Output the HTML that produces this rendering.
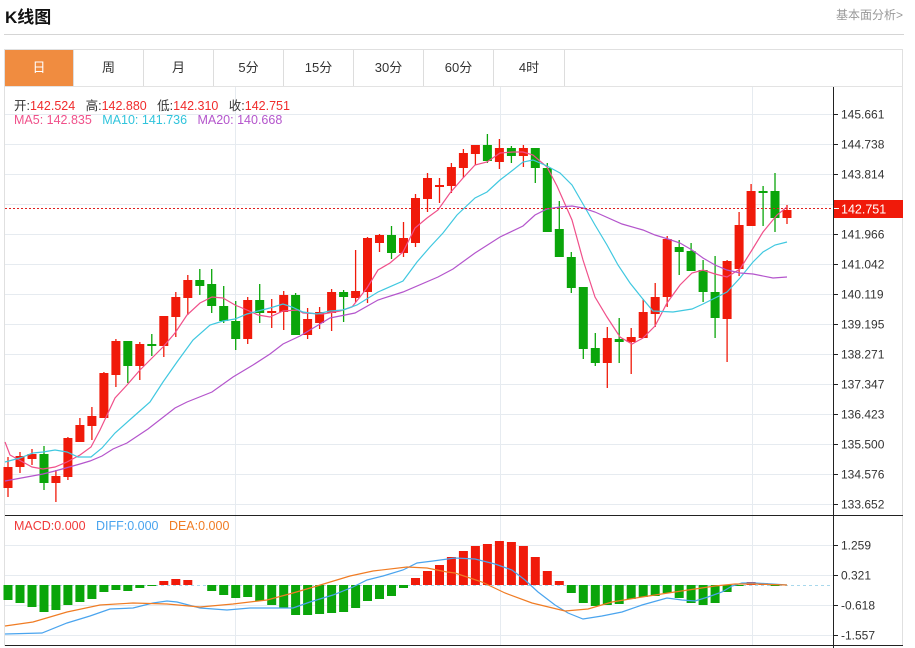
<!DOCTYPE html>
<html><head><meta charset="utf-8">
<style>
body{margin:0;background:#fff;width:915px;height:648px;overflow:hidden;font-family:"Liberation Sans","Noto Sans CJK SC",sans-serif;position:relative}
.t{position:absolute;white-space:nowrap}
.tab{position:absolute;top:50px;height:36px;line-height:36px;text-align:center;font-size:13px;color:#333;border-right:1px solid #ddd;box-sizing:border-box}
</style></head><body>
<div class="t" style="left:5px;top:3px;font-size:17px;font-weight:bold;color:#111">K线图</div>
<div class="t" style="left:836px;top:6px;font-size:12px;color:#999">基本面分析&gt;</div>
<div style="position:absolute;left:4px;top:34px;width:900px;height:1px;background:#d5d5d5"></div>
<div style="position:absolute;left:4px;top:49px;width:899px;height:597px;border:1px solid #e0e0e0;box-sizing:border-box"></div>
<div class="tab" style="left:5px;width:69px;background:#f08c40;color:#fff">日</div>
<div class="tab" style="left:74px;width:70px">周</div>
<div class="tab" style="left:144px;width:70px">月</div>
<div class="tab" style="left:214px;width:70px">5分</div>
<div class="tab" style="left:284px;width:70px">15分</div>
<div class="tab" style="left:354px;width:70px">30分</div>
<div class="tab" style="left:424px;width:70px">60分</div>
<div class="tab" style="left:494px;width:71px">4时</div>
<div style="position:absolute;left:5px;top:86px;width:898px;height:1px;background:#e3e3e3"></div>
<svg id="s" width="915" height="648" style="position:absolute;left:0;top:0"></svg>
<div class="t" style="left:14px;top:95px;font-size:12.5px;color:#333">开:<span style="color:#f02c2c">142.524</span>&nbsp;&nbsp;&nbsp;高:<span style="color:#f02c2c">142.880</span>&nbsp;&nbsp;&nbsp;低:<span style="color:#f02c2c">142.310</span>&nbsp;&nbsp;&nbsp;收:<span style="color:#f02c2c">142.751</span></div>
<div class="t" style="left:14px;top:113px;font-size:12.5px"><span style="color:#f0508a">MA5: 142.835</span>&nbsp;&nbsp;&nbsp;<span style="color:#30c4dc">MA10: 141.736</span>&nbsp;&nbsp;&nbsp;<span style="color:#b455cc">MA20: 140.668</span></div>
<div class="t" style="left:14px;top:519px;font-size:12.5px"><span style="color:#f03a3a">MACD:0.000</span>&nbsp;&nbsp;&nbsp;<span style="color:#4aa4ee">DIFF:0.000</span>&nbsp;&nbsp;&nbsp;<span style="color:#f07c24">DEA:0.000</span></div>
<script>
var s=document.getElementById('s'),h='';
function L(x1,y1,x2,y2,c,w,d){h+='<line x1="'+x1+'" y1="'+y1+'" x2="'+x2+'" y2="'+y2+'" stroke="'+c+'" stroke-width="'+(w||1)+'"'+(d?' stroke-dasharray="'+d+'"':'')+'/>';}
// grid
for(var i=0;i<14;i++){var y=114+30*i; if(y<515)L(5,y+.5,833,y+.5,'#e6ebf0');}
[545,575,605,635].forEach(function(y){L(5,y+.5,833,y+.5,'#e6ebf0');});
[235,500,752].forEach(function(x){L(x+.5,87,x+.5,645,'#e6ebf0');});
L(5,515.5,903,515.5,'#222');L(5,645.5,903,645.5,'#222');L(833.5,87,833.5,648,'#222');
// price axis
var labs=['145.661','144.738','143.814','','141.966','141.042','140.119','139.195','138.271','137.347','136.423','135.500','134.576','133.652'];
labs.forEach(function(t,i){var y=114+30*i;L(833,y+.5,838,y+.5,'#222');if(t)h+='<text x="841" y="'+(y+4.5)+'" font-size="12" fill="#333" font-family="Liberation Sans">'+t+'</text>';});
[['1.259',545],['0.321',575],['-0.618',605],['-1.557',635]].forEach(function(a){L(833,a[1]+.5,838,a[1]+.5,'#222');h+='<text x="841" y="'+(a[1]+4.5)+'" font-size="12" fill="#333" font-family="Liberation Sans">'+a[0]+'</text>';});
// candles [bt,bb,wt,wb,red?]
var C=[[467,488,457,497,1],[456,467,452,473,1],[454,459,449,465,1],[454,483,446,490,0],[476,483,470,502,1],[438,477,437,480,1],[425,442,418,442,1],[416,426,407,440,1],[373,418,372,418,1],[341,375,339,387,1],[341,366,341,383,0],[344,366,342,380,1],[344,346,334,356,0],[316,346,316,357,1],[297,317,292,337,1],[280,298,275,315,1],[280,286,269,295,0],[284,306,269,313,0],[306,321,286,323,0],[321,339,301,350,0],[300,339,297,344,1],[300,313,284,323,0],[311,313,299,328,1],[295,312,291,330,1],[295,335,293,335,0],
[319,335,308,339,1],[312,323,307,329,1],[292,313,289,331,1],[292,297,290,322,0],[291,298,250,302,1],[238,292,237,303,1],[235,243,234,252,1],[235,253,226,259,0],[238,253,222,257,1],[198,243,194,247,1],[178,199,173,212,1],[185,187,178,203,1],[167,186,163,193,1],[153,168,149,178,1],[145,154,145,165,1],[145,161,134,163,0],[148,162,139,169,1],[148,156,146,163,0],[148,156,145,167,1],[148,168,148,183,0],[168,232,163,232,0],[229,257,201,257,0],[257,288,252,293,0],[287,349,287,359,0],
[348,363,333,366,0],[338,363,327,388,1],[339,342,318,363,0],[337,342,328,374,1],[312,338,299,338,1],[297,314,283,327,1],[239,297,236,307,1],[247,252,240,275,0],[251,271,243,271,0],[270,292,260,302,0],[292,318,256,338,0],[261,319,260,362,1],[225,269,212,276,1],[191,226,184,226,1],[191,192,186,226,0],[191,218,173,232,0],[210,218,205,224,1]];
function X(i){return 8+i*11.985;}
C.forEach(function(c,i){var x=X(i),col=c[4]?'#f01a0a':'#0aa50a';L(x.toFixed(1),c[2],x.toFixed(1),c[3],col,1.3);var bh=Math.max(c[1]-c[0],2);h+='<rect x="'+(x-4.5).toFixed(1)+'" y="'+c[0]+'" width="9" height="'+bh+'" fill="'+col+'"/>';});
function P(pts,c,w){h+='<polyline fill="none" stroke="'+c+'" stroke-width="'+(w||1.2)+'" points="'+pts+'"/>';}
P('5,442 10,455 32,467 43,469 55,467 67,462 80,455 91,447 100,430 115,398 127,385 140,370 152,358 163,347 175,333 187,315 200,303 212,297 223,298 235,305 247,310 258,315 270,317 283,311 298,310 303,313 323,314 340,311 352,307 367,288 378,270 390,263 403,252 415,228 427,218 438,210 450,193 463,178 475,165 487,162 500,153 513,152 523,152 533,155 547,167 557,186 572,220 583,260 595,297 607,317 620,337 632,344 643,338 655,326 667,303 680,285 692,273 703,270 715,274 727,277 740,269 752,250 763,232 777,215 787,207','#f0508a');
P('5,462 20,458 33,453 43,452 55,450 67,452 78,457 91,457 102,448 115,433 133,417 150,402 163,382 177,362 193,340 210,325 223,321 235,319 247,314 258,311 270,308 283,304 292,307 303,312 317,314 330,311 343,310 357,305 378,292 403,281 417,262 430,247 443,233 457,215 475,198 487,192 500,180 513,170 523,162 533,160 547,166 560,173 572,185 583,204 595,225 607,245 618,265 630,283 642,298 653,311 673,312 692,309 703,304 715,298 727,292 740,278 753,262 763,252 775,245 787,242','#40c8e0');
P('5,481 43,474 55,471 80,464 90,461 102,456 113,449 127,443 148,429 175,408 187,402 212,392 233,377 253,365 270,354 283,344 300,336 330,318 355,313 378,300 403,292 438,277 453,269 475,253 500,237 523,226 535,215 547,209 560,207 572,206 583,208 595,212 622,224 643,230 655,235 668,239 680,243 692,250 703,258 715,265 727,270 740,273 753,274 773,278 787,277','#b455cc');
// price line
L(5,208.5,833,208.5,'#e02020',1,'2,2');
h+='<rect x="834" y="200" width="69" height="18" fill="#f01a0a"/>';L(834,208.5,839,208.5,'#fff');
h+='<text x="841" y="213.5" font-size="12.5" fill="#fff" font-family="Liberation Sans">142.751</text>';
// macd
L(5,585.5,833,585.5,'#a8d8ec',1,'3,3');
var M=[600,603,607,612,610,605,602,599,592,590,591,588,586,581,579,580,585,591,595,598,597,601,605,608,615,615,614,613,612,608,601,599,596,588,578,571,565,557,551,546,544,541,542,546,557,571,581,593,603,606,605,604,599,597,596,593,598,603,605,603,592,586,582,583,586,585];
M.forEach(function(v,i){var x=X(i);if(Math.abs(v-585)<1)return;var t=Math.min(v,585),hh=Math.abs(v-585);h+='<rect x="'+(x-4.5).toFixed(1)+'" y="'+t+'" width="9" height="'+hh+'" fill="'+(v<585?'#f01a0a':'#0aa50a')+'"/>';});
P('5,634 42,633 67,623 90,616 110,609 133,608 153,603 167,601 177,602 200,608 227,610 250,608 273,608 293,608 310,602 333,595 353,587 367,580 383,576 403,570 417,563 433,561 455,558 475,559 495,564 512,570 525,580 538,592 555,605 568,613 583,619 602,616 622,612 642,605 667,598 682,600 695,601 708,597 722,592 732,586 742,583 755,583 772,584 787,585','#4aa4ee');
P('5,626 33,622 67,612 100,605 133,603 167,604 200,607 233,604 267,600 293,593 317,586 350,576 373,571 407,567 427,568 447,572 455,573 482,582 505,593 532,603 565,611 588,609 612,602 642,597 668,593 695,589 715,586 735,584 755,584 787,585','#f07c24');
s.innerHTML=h;
</script>
</body></html>
